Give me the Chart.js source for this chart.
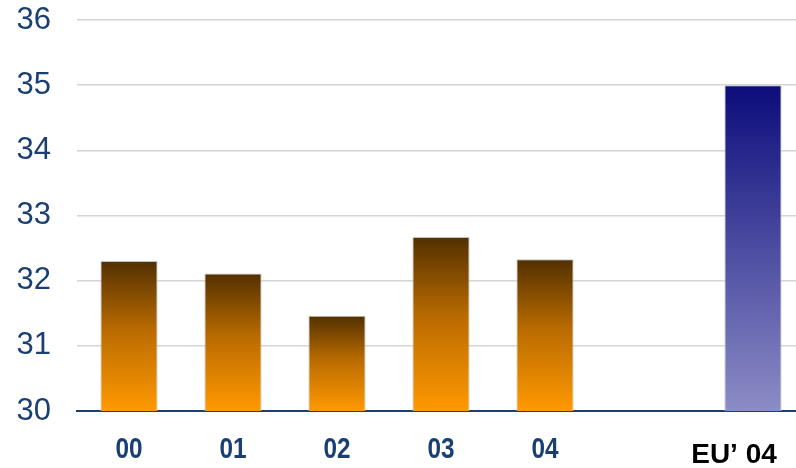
<!DOCTYPE html>
<html>
<head>
<meta charset="utf-8">
<script src="https://cdn.jsdelivr.net/npm/chart.js@4.4.1/dist/chart.umd.min.js"></script>
<style>
  html, body { margin: 0; padding: 0; background: #fff; overflow: hidden; }
  #wrap { width: 805px; height: 468px; }
</style>
</head>
<body>
<div id="wrap"><canvas id="chart" width="805" height="468"></canvas></div>
<script>
// データ
const labels = ['00', '01', '02', '03', '04', '', 'EU\u2019 04'];
const values = [32.30, 32.11, 31.46, 32.67, 32.33, null, 35.0];
const yTicks = [30, 31, 32, 33, 34, 35, 36];

const navy = '#1a3f72';

// バーごとにグラデーション (上が濃い色)
function barGradient(c) {
    const chart = c.chart;
    const area = chart.chartArea;
    if (!area || c.raw == null) return null;
    const y = chart.scales.y;
    const top = y.getPixelForValue(c.raw);
    const bottom = y.getPixelForValue(yTicks[0]);
    const g = chart.ctx.createLinearGradient(0, top, 0, bottom);
    if (c.dataIndex === 6) {
        g.addColorStop(0, '#0c0c7c');
        g.addColorStop(1, '#8c8cc6');
    } else {
        g.addColorStop(0, '#523000');
        g.addColorStop(0.45, '#b86a00');
        g.addColorStop(1, '#ff9900');
    }
    return g;
}

// x軸ラベル：00〜04 は細めの字、EU' 04 は黒で少し左寄り
const xLabelPlugin = {
    id: 'xLabels',
    afterDraw(chart) {
        const ctx = chart.ctx;
        const xs = chart.scales.x;
        ctx.save();
        ctx.textAlign = 'center';
        ctx.textBaseline = 'alphabetic';
        labels.forEach((lab, i) => {
            if (!lab) return;
            const x = xs.getPixelForTick(i);
            ctx.save();
            if (i === 6) {
                ctx.font = 'bold 28px "Liberation Sans", Arial, sans-serif';
                ctx.fillStyle = '#000';
                ctx.translate(x - 19, 463);
            } else {
                ctx.font = 'bold 29px "Liberation Sans", Arial, sans-serif';
                ctx.fillStyle = navy;
                ctx.translate(x, 458);
                ctx.scale(0.84, 1);
            }
            ctx.fillText(lab, 0, 0);
            ctx.restore();
        });
        ctx.restore();
    }
};

new Chart(document.getElementById('chart'), {
    type: 'bar',
    data: {
        labels: labels,
        datasets: [{
            data: values,
            backgroundColor: barGradient,
            borderColor: '#c4c4c4',
            borderWidth: 1,
            borderSkipped: 'bottom',
            barPercentage: 0.55,
            categoryPercentage: 1.0
        }]
    },
    plugins: [xLabelPlugin],
    options: {
        responsive: false,
        animation: false,
        layout: { padding: { top: 20, right: 0, bottom: 0, left: 0 } },
        plugins: { legend: { display: false }, tooltip: { enabled: false } },
        scales: {
            x: {
                grid: { display: false },
                border: { display: true, color: navy, width: 2 },
                ticks: { display: false },
                afterFit: (s) => {
                    s.height = 57;
                    s.paddingLeft = 0;
                    s.paddingRight = 0;
                }
            },
            y: {
                min: 30,
                max: 36,
                afterBuildTicks: (s) => { s.ticks = yTicks.map(v => ({ value: v })); },
                grid: {
                    drawTicks: false,
                    color: (c) => c.tick && c.tick.value === 30 ? 'rgba(0,0,0,0)' : '#d4d4d4',
                    lineWidth: 1.5
                },
                border: { display: false },
                ticks: {
                    padding: 26,
                    color: navy,
                    font: { family: 'Liberation Sans, Arial, sans-serif', size: 31 }
                },
                afterFit: (s) => {
                    s.width = 77;
                    s.paddingTop = 0;
                    s.paddingBottom = 0;
                }
            }
        }
    }
});
</script>
</body>
</html>
